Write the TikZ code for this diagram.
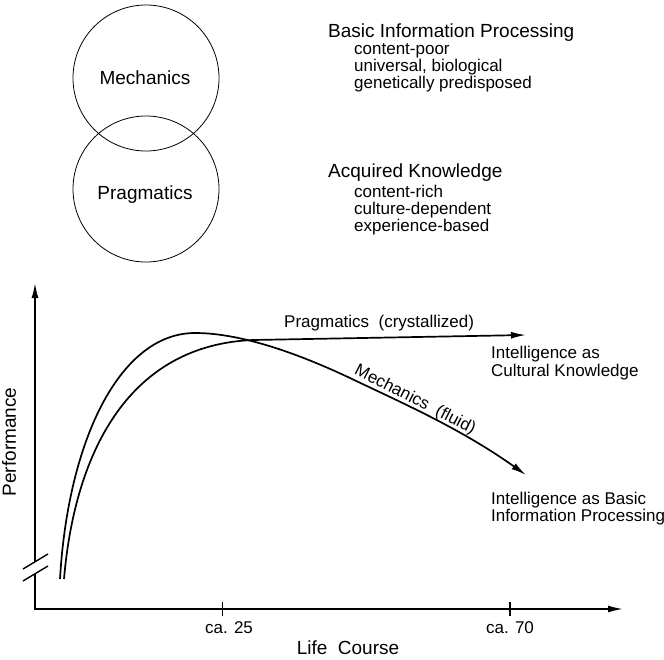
\documentclass[tikz,border=0pt]{standalone}
\usepackage{fontspec}
\setmainfont{Liberation Sans}
\usetikzlibrary{arrows.meta}
\begin{document}
\begin{tikzpicture}[x=1pt,y=-1pt,
  big/.style={font=\fontsize{19}{22}\selectfont, inner sep=0pt},
  small/.style={font=\fontsize{17}{20}\selectfont, inner sep=0pt},
  axisline/.style={line width=1.7pt},
  curve/.style={line width=1.7pt},
  tip/.style={-{Latex[length=15pt,width=7pt]}},
  ring/.style={draw, circle, line width=0.8pt, minimum size=146pt, inner sep=0pt}]
\useasboundingbox (0,0) rectangle (664,659);
% circles
\node[ring] (mc) at (146,78) {};
\node[ring] (pc) at (146,189) {};
\node[big, anchor=base] (mlab) at (145,84) {Mechanics};
\node[big, anchor=base] (plab) at (145,199) {Pragmatics};
% right texts
\node[big, anchor=base west] (h1) at (328,37) {Basic Information Processing};
\node[small, anchor=base west] (h1a) at (354,54) {content-poor};
\node[small, anchor=base west] (h1b) at (354,71) {universal, biological};
\node[small, anchor=base west] (h1c) at (354,88) {genetically predisposed};
\node[big, anchor=base west] (h2) at (328,177) {Acquired Knowledge};
\node[small, anchor=base west] (h2a) at (354,197) {content-rich};
\node[small, anchor=base west] (h2b) at (354,214) {culture-dependent};
\node[small, anchor=base west] (h2c) at (354,231) {experience-based};
% axes
\coordinate (origin) at (35,609);
\coordinate (ybreaklo) at (35,574);
\coordinate (ybreakhi) at (35,562);
\coordinate (ytop) at (35,283);
\coordinate (xend) at (623,609);
\draw[axisline, tip, line join=miter] (ybreaklo) -- (origin) -- (xend);
\draw[axisline, tip] (ybreakhi) -- (ytop);
\draw[line width=1.4pt] (23,569) -- (48,554);
\draw[line width=1.4pt] (23,581) -- (48,566);
% ticks
\coordinate (t25) at (222.7,609);
\coordinate (t70) at (510,609);
\draw[line width=1.4pt] ([yshift=-7pt]t25) -- ([yshift=7pt]t25);
\draw[line width=1.4pt] ([yshift=-7pt]t70) -- ([yshift=7pt]t70);
\node[small, anchor=base] (l25) at (229,633) {ca. 25};
\node[small, anchor=base] (l70) at (510,633) {ca. 70};
\node[big, anchor=base] (xlab) at (348,654) {Life\ \ Course};
\node[big, rotate=90] (ylab) at (9,442) {Performance};
% curves
\draw[curve, tip] (60,579) .. controls (68,440) and (120,333) .. (195,333)
  .. controls (230,333) and (280,345) .. (350,378)
  .. controls (400,402) and (460,428) .. (526,475);
\draw[curve, tip] (64,579) .. controls (75,450) and (130,345) .. (253,340)
  -- (526,335);
% curve labels
\node[small, anchor=base west] (prag) at (284,327) {Pragmatics\ \ (crystallized)};
\node[small, rotate=-27, anchor=base] (mech) at (413,404) {Mechanics\ \ (fluid)};
\node[small, anchor=base west] (i1a) at (491,358) {Intelligence as};
\node[small, anchor=base west] (i1b) at (491,376) {Cultural Knowledge};
\node[small, anchor=base west] (i2a) at (491,504) {Intelligence as Basic};
\node[small, anchor=base west] (i2b) at (491,521) {Information Processing};
\end{tikzpicture}
\end{document}
